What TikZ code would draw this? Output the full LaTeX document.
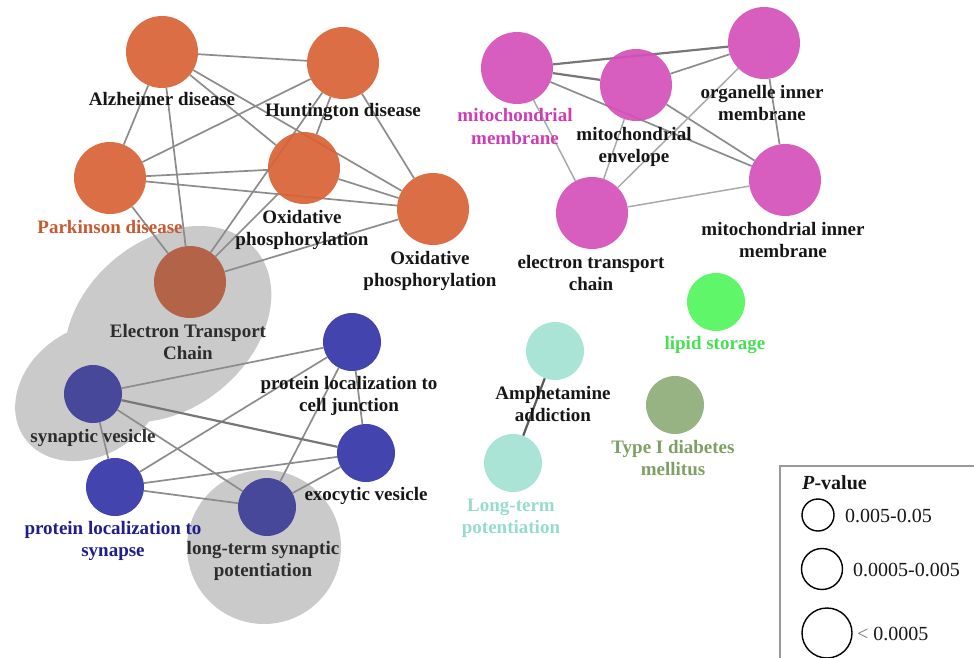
\documentclass[tikz,border=0pt]{standalone}
\usepackage{fontspec}
\setmainfont{Liberation Serif}
\pgfdeclarelayer{blobs}
\pgfdeclarelayer{links}
\pgfsetlayers{blobs,links,main}

\definecolor{orng}{RGB}{217,98,54}
\definecolor{orngdim}{RGB}{178,92,62}
\definecolor{pink}{RGB}{212,80,186}
\definecolor{pinktxt}{RGB}{205,60,180}
\definecolor{navy}{RGB}{52,52,168}
\definecolor{navydim}{RGB}{62,62,150}
\definecolor{navytxt}{RGB}{30,30,140}
\definecolor{lime}{RGB}{82,245,92}
\definecolor{limetxt}{RGB}{70,225,80}
\definecolor{olive}{RGB}{142,172,122}
\definecolor{olivetxt}{RGB}{125,160,100}
\definecolor{aqua}{RGB}{162,226,212}
\definecolor{aquatxt}{RGB}{150,220,205}
\definecolor{hilite}{RGB}{202,202,202}
\definecolor{linkgray}{RGB}{140,140,140}
\definecolor{ink}{RGB}{22,22,22}
\definecolor{inkgray}{RGB}{45,45,45}

\tikzset{
  term/.style={circle, inner sep=0pt, fill opacity=0.92},
  bignode/.style={term, minimum size=72pt},
  smallnode/.style={term, minimum size=58pt},
  % labels are placed by the baseline of their last line
  lbl/.style={font=\bfseries\fontsize{19}{22}\selectfont, align=center,
              inner sep=0pt, anchor=base, text=ink},
  link/.style={draw=linkgray, line width=1.7pt},
  thicklink/.style={draw=linkgray!85!black, line width=2.2pt},
  lightlink/.style={draw=linkgray!75!white, line width=1.5pt},
  blob/.style={fill=hilite},
  legtxt/.style={font=\fontsize{20}{24}\selectfont, inner sep=0pt, anchor=base west, text=ink},
  legcirc/.style={circle, draw=black, line width=1.4pt, inner sep=0pt}
}

\begin{document}
\begin{tikzpicture}[x=1pt,y=-1pt]
\useasboundingbox (0,0) rectangle (974,658);

% ---- disease / pathway cluster (orange)
\node[bignode, fill=orng] (alz) at (162,52) {};
\node[bignode, fill=orng] (hunt) at (343,63) {};
\node[bignode, fill=orng] (park) at (110,178) {};
\node[bignode, fill=orng] (oxa) at (304,168) {};
\node[bignode, fill=orng] (oxb) at (433,209) {};
\node[bignode, fill=orngdim] (etc) at (190,282) {};

% ---- mitochondrial cluster (pink)
\node[bignode, fill=pink] (mm) at (517,68) {};
\node[bignode, fill=pink] (me) at (636,85) {};
\node[bignode, fill=pink] (oim) at (764,43) {};
\node[bignode, fill=pink] (mim) at (785,180) {};
\node[bignode, fill=pink] (etcp) at (592,213) {};

% ---- synapse cluster (blue)
\node[smallnode, fill=navydim] (sv) at (93,394) {};
\node[smallnode, fill=navy] (plcj) at (352,342) {};
\node[smallnode, fill=navy] (ev) at (366,453) {};
\node[smallnode, fill=navy] (pls) at (115,487) {};
\node[smallnode, fill=navydim] (ltsp) at (267,507) {};

% ---- single terms
\node[smallnode, fill=lime] (lip) at (716,302) {};
\node[smallnode, fill=olive] (t1d) at (675,405) {};
\node[smallnode, fill=aqua] (amph) at (555,351) {};
\node[smallnode, fill=aqua] (ltp) at (513,463) {};

% ---- shaded groups
\begin{pgfonlayer}{blobs}
  \fill[blob, rotate around={40:(168,324)}] (168,324) ellipse [x radius=115, y radius=84];
  \fill[blob, rotate around={35:(90,392)}] (90,392) ellipse [x radius=80, y radius=63];
  \fill[blob] (264,547) circle [radius=77];
\end{pgfonlayer}

% ---- links
\begin{pgfonlayer}{links}
  \foreach \a/\b in {alz/hunt, alz/park, alz/etc, alz/oxa, alz/oxb,
                     hunt/park, hunt/oxa, hunt/oxb, hunt/etc,
                     park/oxa, park/oxb, park/etc,
                     oxa/oxb, oxa/etc, oxb/etc}
    \draw[link] (\a) -- (\b);
  \foreach \a/\b in {mm/mim, me/oim, me/mim, oim/mim}
    \draw[link] (\a) -- (\b);
  \foreach \a/\b in {mm/oim, mm/me}
    \draw[thicklink] (\a) -- (\b);
  \foreach \a/\b in {mm/etcp, me/etcp, oim/etcp, etcp/mim}
    \draw[lightlink] (\a) -- (\b);
  \foreach \a/\b in {sv/plcj, sv/ltsp, sv/pls, pls/plcj, pls/ev,
                     pls/ltsp, ltsp/plcj, ltsp/ev, plcj/ev}
    \draw[link] (\a) -- (\b);
  \draw[thicklink] (sv) -- (ev);
  \draw[draw=black!65, line width=2.2pt] (amph) -- (ltp);
\end{pgfonlayer}

% ---- labels
\node[lbl] (l-alz) at (162,106) {Alzheimer disease};
\node[lbl] (l-hunt) at (343,117) {Huntington disease};
\node[lbl, text=orng!92!black] (l-park) at (110,233) {Parkinson disease};
\node[lbl] (l-oxa) at (302,245) {Oxidative\\phosphorylation};
\node[lbl] (l-oxb) at (430,286) {Oxidative\\phosphorylation};
\node[lbl, text=inkgray] (l-etc) at (188,359) {Electron Transport\\Chain};

\node[lbl, text=pinktxt] (l-mm) at (515,144) {mitochondrial\\membrane};
\node[lbl] (l-me) at (634,162) {mitochondrial\\envelope};
\node[lbl] (l-oim) at (762,121) {organelle inner\\membrane};
\node[lbl] (l-mim) at (783,257) {mitochondrial inner\\membrane};
\node[lbl] (l-etcp) at (591,290) {electron transport\\chain};

\node[lbl] (l-plcj) at (349,411) {protein localization to\\cell junction};
\node[lbl, text=inkgray] (l-sv) at (93,442) {synaptic vesicle};
\node[lbl] (l-ev) at (366,500) {exocytic vesicle};
\node[lbl, text=navytxt] (l-pls) at (113,556) {protein localization to\\synapse};
\node[lbl, text=inkgray] (l-ltsp) at (263,576) {long-term synaptic\\potentiation};

\node[lbl, text=limetxt] (l-lip) at (715,349) {lipid storage};
\node[lbl, text=olivetxt] (l-t1d) at (673,475) {Type I diabetes\\mellitus};
\node[lbl] (l-amph) at (553,421) {Amphetamine\\addiction};
\node[lbl, text=aquatxt] (l-ltp) at (511,533) {Long-term\\potentiation};

% ---- legend
\draw[draw=black!40, line width=1.5pt] (780,662) -- (780,466) -- (978,466);
\node[font=\bfseries\fontsize{20}{24}\selectfont, inner sep=0pt, anchor=base west, text=ink]
  (leg-title) at (802,489) {\textit{P}-value};
\node[legcirc, minimum size=32pt] (leg-c1) at (818,515) {};
\node[legcirc, minimum size=41pt] (leg-c2) at (822,569) {};
\node[legcirc, minimum size=50pt] (leg-c3) at (827,633) {};
\node[legtxt] (leg-t1) at (845,522) {0.005-0.05};
\node[legtxt] (leg-t2) at (853,576) {0.0005-0.005};
\node[legtxt] (leg-t3) at (857,640) {{\color{black!55}<} 0.0005};
\end{tikzpicture}
\end{document}
